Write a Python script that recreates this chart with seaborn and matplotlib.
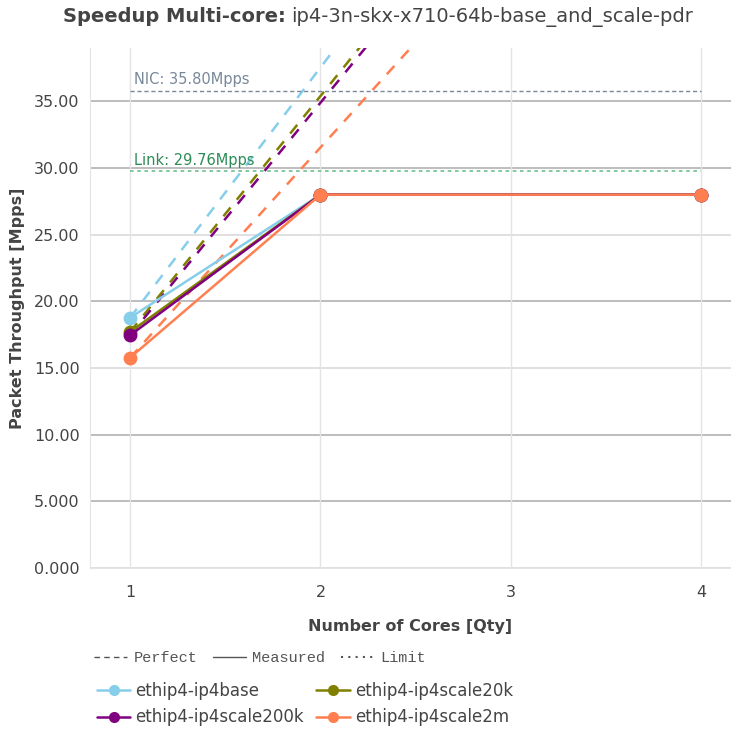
import numpy as np
import pandas as pd
import seaborn as sns
import matplotlib.pyplot as plt
from matplotlib.lines import Line2D

# 数据
cores = [1, 2, 4]
perfect_cores = [1, 2, 3, 4]
base = [18.77, 28.0, 28.0]
scale20k = [17.70, 28.0, 28.0]
scale200k = [17.45, 28.0, 28.0]
scale2m = [15.77, 28.0, 28.0]
names = ["ethip4-ip4base", "ethip4-ip4scale20k", "ethip4-ip4scale200k", "ethip4-ip4scale2m"]
colors = ["#87ceeb", "#808000", "#800080", "#ff7f50"]
nic_limit = 35.80
link_limit = 29.76
y_ticks = [0, 5, 10, 15, 20, 25, 30, 35]
y_labels = ["0.000", "5.000", "10.00", "15.00", "20.00", "25.00", "30.00", "35.00"]

series = [base, scale20k, scale200k, scale2m]
df = pd.concat([pd.DataFrame({"cores": cores, "mpps": v, "test": n}) for n, v in zip(names, series)])
perf = pd.concat([pd.DataFrame({"cores": perfect_cores, "mpps": [v[0] * c for c in perfect_cores], "test": n})
                  for n, v in zip(names, series)])

sns.set_style("white")
plt.rcParams['font.family'] = ['DejaVu Sans']
text_col = "#444444"

fig = plt.figure(figsize=(7.31, 7.33), dpi=100)
ax = fig.add_axes([90 / 731, 1 - 568 / 733, 1 - 90 / 731, (568 - 48) / 733])

# 网格
for y in y_ticks:
    c = "#dddddd" if y in (0, 15, 25) else "#b8b8b8"
    ax.axhline(y, color=c, lw=1.3, zorder=0)
for x in [1, 2, 3, 4]:
    ax.axvline(x, color="#e4e4e4", lw=1, zorder=0)

palette = dict(zip(names, colors))
sns.lineplot(data=perf, x="cores", y="mpps", hue="test", palette=palette, ax=ax,
             dashes=False, linestyle=(0, (4.5, 4)), lw=1.8, legend=False)
sns.lineplot(data=df, x="cores", y="mpps", hue="test", palette=palette, ax=ax,
             marker="o", markersize=10, markeredgewidth=0, lw=1.8, legend=False)

# 限制线
ax.plot([1, 4], [nic_limit, nic_limit], color="#778899", lw=1, linestyle=(0, (3, 2)))
ax.plot([1, 4], [link_limit, link_limit], color="#77c499", lw=1.3, linestyle=(0, (2, 2)))
ax.text(1.02, nic_limit + 0.25, "NIC: 35.80Mpps", color="#778899", fontsize=10.5, va="bottom")
ax.text(1.02, link_limit + 0.25, "Link: 29.76Mpps", color="#2e8b57", fontsize=10.5, va="bottom")

ax.set_xlim(0.79, 4.155)
ax.set_ylim(0, 39.0)
ax.set_xticks([1, 2, 3, 4])
ax.set_yticks(y_ticks)
ax.set_yticklabels(y_labels)
ax.tick_params(axis="both", labelsize=11.5, colors=text_col, length=4, color="#cccccc")
ax.tick_params(axis="x", pad=8)
for s in ["top", "right"]:
    ax.spines[s].set_visible(False)
for s in ["left", "bottom"]:
    ax.spines[s].set_color("#e4e4e4")
ax.set_xlabel("Number of Cores [Qty]", fontsize=11.5, fontweight="bold", color=text_col, labelpad=14)
ax.set_ylabel("Packet Throughput [Mpps]", fontsize=11.5, fontweight="bold", color=text_col, labelpad=6)

# 标题
fig.text(286 / 731, 1 - 17 / 733, "Speedup Multi-core:", fontsize=14, fontweight="bold",
         color=text_col, ha="right", va="center")
fig.text(291 / 731, 1 - 17 / 733, "ip4-3n-skx-x710-64b-base_and_scale-pdr", fontsize=14,
         color=text_col, ha="left", va="center")

# 线型图例
style_handles = [Line2D([], [], color="#555555", lw=1, linestyle=(0, (4, 3))),
                 Line2D([], [], color="#555555", lw=1),
                 Line2D([], [], color="#555555", lw=1.5, linestyle=(0, (1, 2.5)))]
leg1 = fig.legend(style_handles, ["Perfect", "Measured", "Limit"], ncol=3, frameon=False,
                  loc="center left", bbox_to_anchor=(80 / 731, 1 - 658 / 733),
                  prop={"family": "Liberation Mono", "size": 11}, handlelength=2.2,
                  columnspacing=1.0, handletextpad=0.4)
for t in leg1.get_texts():
    t.set_color("#555555")

# 系列图例
handles = [Line2D([], [], color=c, marker="o", markersize=8, markeredgewidth=0, lw=1.8) for c in colors]
order = [0, 2, 1, 3]
leg2 = fig.legend([handles[i] for i in order], [names[i] for i in order], ncol=2, frameon=False,
                  loc="upper left", bbox_to_anchor=(82 / 731, 1 - 667 / 733),
                  fontsize=12, handlelength=2.0, columnspacing=0.75, handletextpad=0.3,
                  labelspacing=0.5)
for t in leg2.get_texts():
    t.set_color(text_col)

fig.savefig("out.png", dpi=100)
